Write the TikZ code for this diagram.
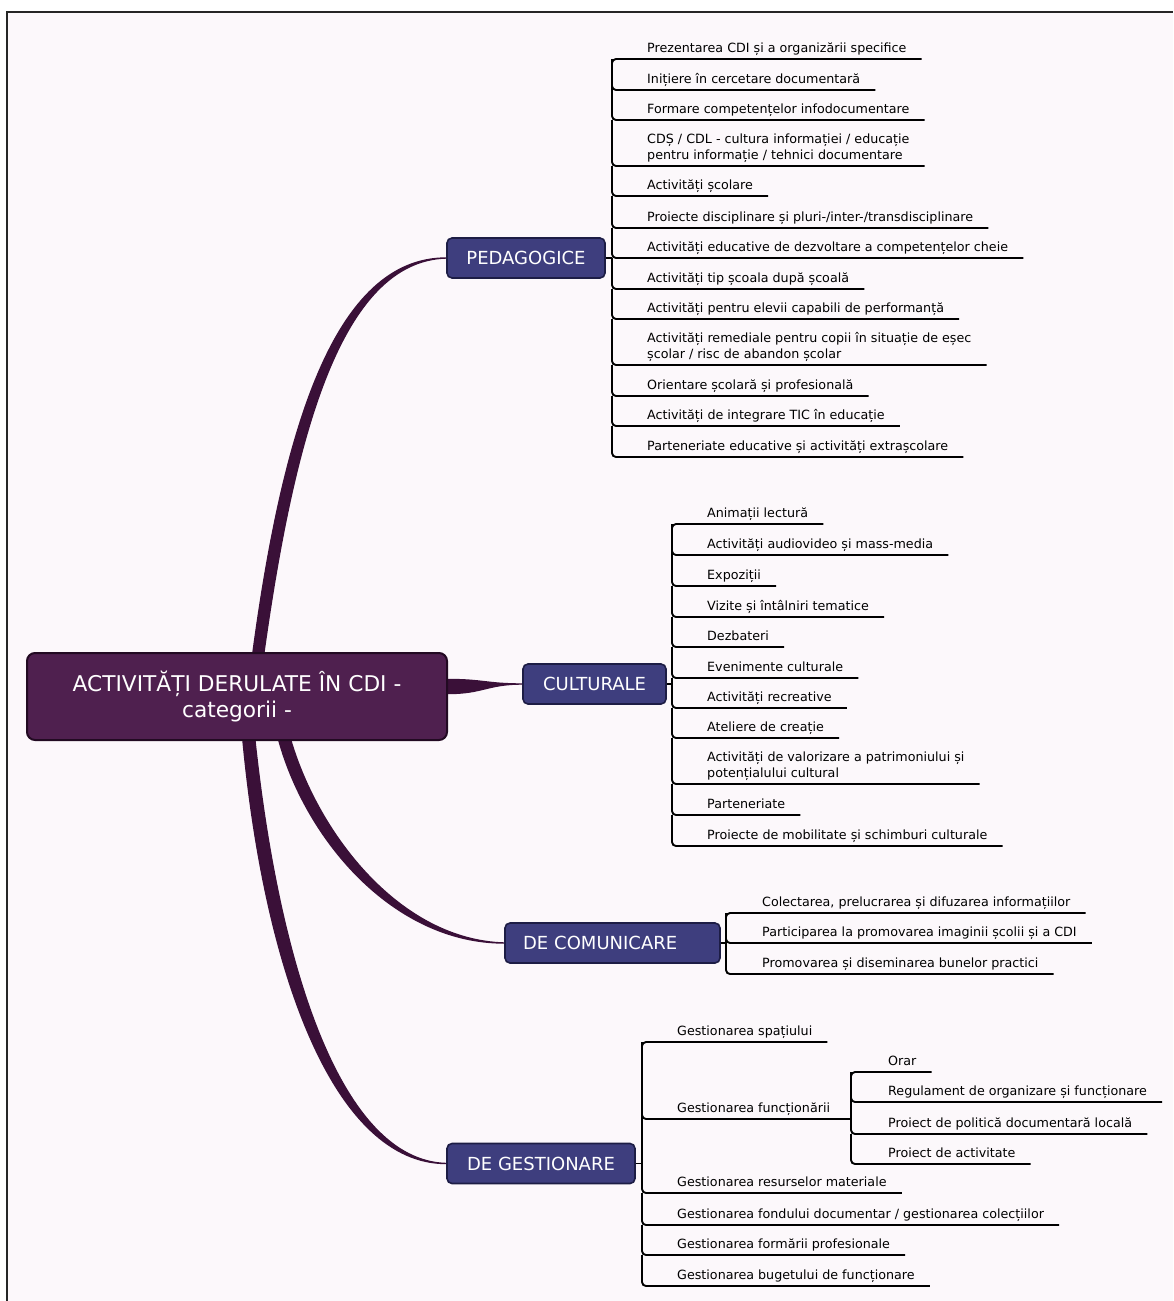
\documentclass[tikz,border=0pt]{standalone}
\usepackage{fontspec}
\setmainfont{DejaVu Sans}
\usepackage{tikz}
\usetikzlibrary{positioning}
\usepackage{xcolor}

\definecolor{paperpink}{HTML}{FCF8FB}
\definecolor{rootfill}{HTML}{4F204F}
\definecolor{rootline}{HTML}{220A22}
\definecolor{catfill}{HTML}{3E3E7E}
\definecolor{catline}{HTML}{1D1D45}
\definecolor{branchc}{HTML}{3A1038}

\newcommand{\leaffont}{\fontsize{12.7}{16}\selectfont}
\newcommand{\catfont}{\fontsize{18}{22}\selectfont}
\newcommand{\rootfont}{\fontsize{21.7}{26}\selectfont}
\newcommand{\twoline}[2]{\begin{tabular}[b]{@{}l@{}}#1\\#2\end{tabular}}

\pgfdeclarelayer{paper}
\pgfdeclarelayer{branches}
\pgfsetlayers{paper,branches,main}

\begin{document}
\begin{tikzpicture}[x=1pt, y=-1pt,
  rootbox/.style={rounded corners=8pt, fill=rootfill, draw=rootline, line width=2pt, text=white, font=\rootfont, align=center, inner sep=0pt, minimum width=420pt, minimum height=87pt},
  catbox/.style={rounded corners=5pt, fill=catfill, draw=catline, line width=1.6pt, text=white, font=\catfont, inner sep=0pt, minimum height=40pt},
  leaf/.style={anchor=south west, inner sep=0pt, text depth=6pt, font=\leaffont},
  twig/.style={draw=black, line width=1.9pt, rounded corners=4pt},
  branch/.style={fill=branchc, draw=branchc, line width=1.4pt}]
\useasboundingbox (0,0) rectangle (1173,1301);
\begin{pgfonlayer}{paper}
\fill[paperpink] (7,12) rectangle (1173,1301);
\draw[line width=1.8pt, draw=black!85] (7,1301) -- (7,12) -- (1173,12);
\end{pgfonlayer}

% root and categories
\node[rootbox] (root) at (237,696.5) {ACTIVITĂȚI DERULATE ÎN CDI -\\categorii -};
\node[catbox, minimum width=158pt] (ped) at (526,258) {PEDAGOGICE};
\node[catbox, minimum width=143pt] (cult) at (594.5,684) {CULTURALE};
\node[catbox, minimum width=215pt, text width=179pt, align=left] (com) at (612.5,943) {DE COMUNICARE};
\node[catbox, minimum width=188pt] (gest) at (541,1163.5) {DE GESTIONARE};

\begin{pgfonlayer}{branches}
\filldraw[branch] ([xshift=16pt]root.north) .. controls +(30,-222) and +(-112,0) .. (ped.west)
  .. controls +(-106,3) and +(30,-214) .. ([xshift=27pt]root.north) -- cycle;
\filldraw[branch] ([yshift=17pt]root.east) .. controls +(35,0) and +(-35,0) .. (cult.west)
  .. controls +(-35,0) and +(35,0) .. ([yshift=3pt]root.east) -- cycle;
\filldraw[branch] ([xshift=42pt]root.south) .. controls +(28,100) and +(-110,0) .. (com.west)
  .. controls +(-104,-3) and +(28,94) .. ([xshift=54pt]root.south) -- cycle;
\filldraw[branch] ([xshift=6pt]root.south) .. controls +(22,232) and +(-112,0) .. (gest.west)
  .. controls +(-106,-3) and +(24,224) .. ([xshift=18pt]root.south) -- cycle;
\end{pgfonlayer}

% PEDAGOGICE
\coordinate (pedb) at (612,59);
\node[leaf] (p1) at (647,59) {Prezentarea CDI și a organizării specifice};
\node[leaf] (p2) at (647,90) {Inițiere în cercetare documentară};
\node[leaf] (p3) at (647,120) {Formare competențelor infodocumentare};
\node[leaf] (p4) at (647,166) {\twoline{CDȘ / CDL - cultura informației / educație}{pentru informație / tehnici documentare}};
\node[leaf] (p5) at (647,196) {Activități școlare};
\node[leaf] (p6) at (647,228) {Proiecte disciplinare și pluri-/inter-/transdisciplinare};
\node[leaf] (p7) at (647,258) {Activități educative de dezvoltare a competențelor cheie};
\node[leaf] (p8) at (647,289) {Activități tip școala după școală};
\node[leaf] (p9) at (647,319) {Activități pentru elevii capabili de performanță};
\node[leaf] (p10) at (647,365) {\twoline{Activități remediale pentru copii în situație de eșec}{școlar / risc de abandon școlar}};
\node[leaf] (p11) at (647,396) {Orientare școlară și profesională};
\node[leaf] (p12) at (647,426) {Activități de integrare TIC în educație};
\node[leaf] (p13) at (647,457) {Parteneriate educative și activități extrașcolare};
\draw[twig] (pedb |- p2.south) -- (pedb |- p1.south) -- ([xshift=15pt]p1.south east);
\foreach \a/\b in {p1/p2,p2/p3,p3/p4,p4/p5,p5/p6,p6/p7,p7/p8,p8/p9,p9/p10,p10/p11,p11/p12,p12/p13}
  \draw[twig] (pedb |- \a.south) -- (pedb |- \b.south) -- ([xshift=15pt]\b.south east);
\draw[twig] (ped.east) -- (ped.east -| pedb);

% CULTURALE
\coordinate (cultb) at (672,524);
\node[leaf] (c1) at (707,524) {Animații lectură};
\node[leaf] (c2) at (707,555) {Activități audiovideo și mass-media};
\node[leaf] (c3) at (707,586) {Expoziții};
\node[leaf] (c4) at (707,617) {Vizite și întâlniri tematice};
\node[leaf] (c5) at (707,647) {Dezbateri};
\node[leaf] (c6) at (707,678) {Evenimente culturale};
\node[leaf] (c7) at (707,708) {Activități recreative};
\node[leaf] (c8) at (707,738) {Ateliere de creație};
\node[leaf] (c9) at (707,784) {\twoline{Activități de valorizare a patrimoniului și}{potențialului cultural}};
\node[leaf] (c10) at (707,815) {Parteneriate};
\node[leaf] (c11) at (707,846) {Proiecte de mobilitate și schimburi culturale};
\draw[twig] (cultb |- c2.south) -- (cultb |- c1.south) -- ([xshift=15pt]c1.south east);
\foreach \a/\b in {c1/c2,c2/c3,c3/c4,c4/c5,c5/c6,c6/c7,c7/c8,c8/c9,c9/c10,c10/c11}
  \draw[twig] (cultb |- \a.south) -- (cultb |- \b.south) -- ([xshift=15pt]\b.south east);
\draw[twig] (cult.east) -- (cult.east -| cultb);

% DE COMUNICARE
\coordinate (comb) at (726,913);
\node[leaf] (m1) at (762,913) {Colectarea, prelucrarea și difuzarea informațiilor};
\node[leaf] (m2) at (762,943) {Participarea la promovarea imaginii școlii și a CDI};
\node[leaf] (m3) at (762,974) {Promovarea și diseminarea bunelor practici};
\draw[twig] (comb |- m2.south) -- (comb |- m1.south) -- ([xshift=15pt]m1.south east);
\foreach \a/\b in {m1/m2,m2/m3}
  \draw[twig] (comb |- \a.south) -- (comb |- \b.south) -- ([xshift=15pt]\b.south east);
\draw[twig] (com.east) -- (com.east -| comb);

% DE GESTIONARE
\coordinate (gestb) at (642,1042);
\coordinate (funcb) at (851,1072);
\node[leaf] (g1) at (677,1042) {Gestionarea spațiului};
\node[leaf] (g2) at (677,1119) {Gestionarea funcționării};
\node[leaf] (g3) at (677,1193) {Gestionarea resurselor materiale};
\node[leaf] (g4) at (677,1225) {Gestionarea fondului documentar / gestionarea colecțiilor};
\node[leaf] (g5) at (677,1255) {Gestionarea formării profesionale};
\node[leaf] (g6) at (677,1286) {Gestionarea bugetului de funcționare};
\node[leaf] (o1) at (888,1072) {Orar};
\node[leaf] (o2) at (888,1102) {Regulament de organizare și funcționare};
\node[leaf] (o3) at (888,1134) {Proiect de politică documentară locală};
\node[leaf] (o4) at (888,1164) {Proiect de activitate};
\draw[twig] (gestb |- g2.south) -- (gestb |- g1.south) -- ([xshift=15pt]g1.south east);
\foreach \a/\b in {g2/g3,g3/g4,g4/g5,g5/g6}
  \draw[twig] (gestb |- \a.south) -- (gestb |- \b.south) -- ([xshift=15pt]\b.south east);
\draw[twig] (gestb |- g1.south) -- (gestb |- g2.south) -- (funcb |- g2.south);
\draw[twig] (funcb |- o2.south) -- (funcb |- o1.south) -- ([xshift=15pt]o1.south east);
\foreach \a/\b in {o1/o2,o2/o3,o3/o4}
  \draw[twig] (funcb |- \a.south) -- (funcb |- \b.south) -- ([xshift=15pt]\b.south east);
\draw[twig] (gest.east) -- (gest.east -| gestb);
\end{tikzpicture}
\end{document}
